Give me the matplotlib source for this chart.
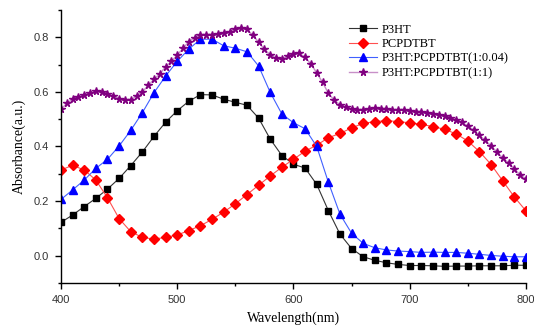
import matplotlib
matplotlib.use('Agg')
import matplotlib.pyplot as plt
import numpy as np
from matplotlib.ticker import MultipleLocator

# wavelength grids (nm)
wl_10 = list(range(400, 801, 10))
wl_5 = list(range(400, 801, 5))

p3ht = [0.122, 0.149, 0.180, 0.210, 0.244, 0.283, 0.330, 0.380, 0.437, 0.489,
        0.531, 0.566, 0.590, 0.589, 0.573, 0.562, 0.551, 0.504, 0.427, 0.367,
        0.335, 0.321, 0.261, 0.165, 0.079, 0.026, -0.004, -0.017, -0.026, -0.032,
        -0.036, -0.036, -0.037, -0.039, -0.038, -0.038, -0.037, -0.037, -0.037, -0.035,
        -0.035]

pcpdtbt = [0.314, 0.331, 0.314, 0.277, 0.212, 0.136, 0.088, 0.067, 0.061, 0.067,
           0.076, 0.092, 0.110, 0.133, 0.160, 0.190, 0.224, 0.258, 0.292, 0.324,
           0.353, 0.383, 0.405, 0.432, 0.448, 0.468, 0.485, 0.491, 0.495, 0.491,
           0.487, 0.481, 0.473, 0.463, 0.446, 0.420, 0.381, 0.334, 0.274, 0.215,
           0.164]

blend_004 = [0.206, 0.241, 0.277, 0.320, 0.353, 0.402, 0.459, 0.524, 0.597, 0.658,
             0.712, 0.757, 0.793, 0.793, 0.769, 0.760, 0.747, 0.695, 0.598, 0.519,
             0.487, 0.465, 0.400, 0.269, 0.152, 0.082, 0.045, 0.029, 0.021, 0.017,
             0.015, 0.012, 0.013, 0.012, 0.012, 0.009, 0.005, 0.001, -0.002, -0.004,
             -0.004]

blend_11 = [0.536, 0.558, 0.573, 0.583, 0.590, 0.597, 0.602, 0.600, 0.592, 0.585,
            0.575, 0.569, 0.570, 0.585, 0.600, 0.624, 0.646, 0.666, 0.692, 0.712,
            0.735, 0.760, 0.784, 0.799, 0.807, 0.810, 0.810, 0.812, 0.815, 0.821,
            0.829, 0.834, 0.829, 0.808, 0.782, 0.756, 0.736, 0.723, 0.720, 0.731,
            0.740, 0.741, 0.727, 0.702, 0.670, 0.635, 0.595, 0.570, 0.553, 0.543,
            0.537, 0.534, 0.534, 0.536, 0.540, 0.538, 0.536, 0.535, 0.534, 0.532,
            0.530, 0.528, 0.525, 0.522, 0.519, 0.516, 0.512, 0.506, 0.498, 0.488,
            0.475, 0.460, 0.441, 0.422, 0.402, 0.380, 0.358, 0.340, 0.318, 0.296,
            0.282]

serif = 'Liberation Serif'

fig = plt.figure(figsize=(5.34, 3.27), dpi=100)
ax = fig.add_axes([0.1142, 0.1346, 0.8708, 0.8348])

ax.plot(wl_10, p3ht, color='#333333', lw=0.8, marker='s', ms=4.5,
        mfc='black', mec='black', label='P3HT')
ax.plot(wl_10, pcpdtbt, color='#ff5050', lw=0.8, marker='D', ms=5,
        mfc='red', mec='red', label='PCPDTBT')
ax.plot(wl_10, blend_004, color='#4060ff', lw=0.8, marker='^', ms=5.5,
        mfc='blue', mec='blue', label='P3HT:PCPDTBT(1:0.04)')
ax.plot(wl_5, blend_11, color='#c890c8', lw=1.0, marker='*', ms=5.5,
        mfc='#800080', mec='#800080', label='P3HT:PCPDTBT(1:1)')

ax.set_xlim(400, 800)
ax.set_ylim(-0.1, 0.9)
ax.xaxis.set_major_locator(MultipleLocator(100))
ax.xaxis.set_minor_locator(MultipleLocator(50))
ax.yaxis.set_minor_locator(MultipleLocator(0.1))
ax.set_yticks([0.0, 0.2, 0.4, 0.6, 0.8])
ax.set_yticklabels(['0.0', '0.2', '0.4', '0.6', '0.8'])

for s in ['top', 'right']:
    ax.spines[s].set_visible(False)
for s in ['left', 'bottom']:
    ax.spines[s].set_linewidth(1.0)

ax.tick_params(which='major', direction='out', length=4, width=1,
               labelsize=8, labelcolor='#333333', pad=4.5)
ax.tick_params(which='minor', direction='out', length=2.5, width=1)
for lab in ax.get_xticklabels() + ax.get_yticklabels():
    lab.set_family('Liberation Sans')

ax.set_xlabel('Wavelength(nm)', family=serif, fontsize=10, labelpad=5)
ax.set_ylabel('Absorbance(a.u.)', family=serif, fontsize=10, labelpad=6)

leg = ax.legend(loc='upper left', bbox_to_anchor=(0.619, 0.95), frameon=False,
                prop={'family': serif, 'size': 9}, handlelength=2.25,
                handletextpad=0.4, labelspacing=0.2, borderaxespad=0,
                borderpad=0)

fig.savefig('out.png', dpi=100)
